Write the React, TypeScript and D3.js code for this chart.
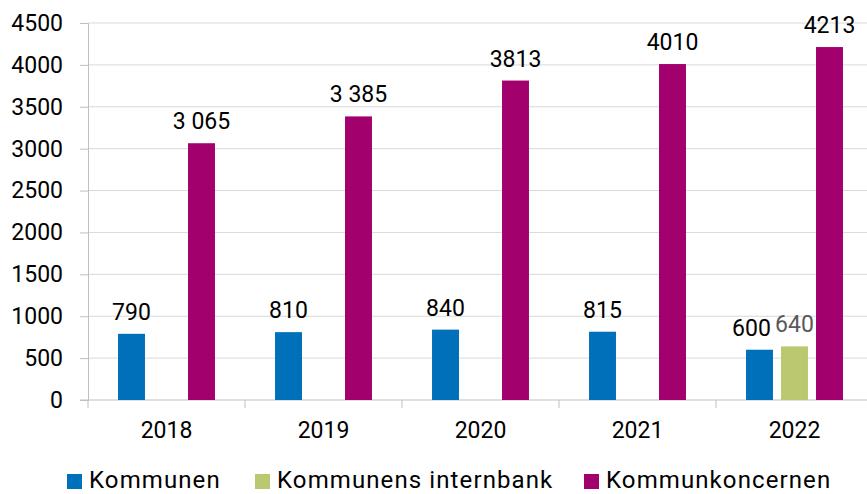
import React, { useEffect, useRef } from 'react';
import * as d3 from 'd3';

const years = ['2018', '2019', '2020', '2021', '2022'];
const seriesNames = ['Kommunen', 'Kommunens internbank', 'Kommunkoncernen'];
const seriesColors = ['#0070ba', '#bcc870', '#a1006d'];
const kommunen = [790, 810, 840, 815, 600];
const internbank = [null, null, null, null, 640];
const koncernen = [3065, 3385, 3813, 4010, 4213];
const kommunenLabels = ['790', '810', '840', '815', '600'];
const internbankLabels = ['', '', '', '', '640'];
const koncernenLabels = ['3 065', '3 385', '3813', '4010', '4213'];
const yTicks = [0, 500, 1000, 1500, 2000, 2500, 3000, 3500, 4000, 4500];

const App = () => {
  const chartRef = useRef<SVGSVGElement>(null);

  useEffect(() => {
    const svg = d3.select(chartRef.current);
    svg.selectAll('*').remove();

    const width = 867;
    const left = 88;
    const bottom = 400;

    const x = d3.scaleBand().domain(years).range([left, left + 157 * 5]);
    const xs = d3.scaleBand()
      .domain(seriesNames)
      .range([0, x.bandwidth()])
      .paddingInner(0.23)
      .paddingOuter(0.858);
    const y = d3.scaleLinear().domain([0, 4500]).range([bottom, 23]);

    const font = 'Roboto, sans-serif';

    // gridlines
    svg.append('g')
      .selectAll('line')
      .data(yTicks.slice(1))
      .enter()
      .append('line')
      .attr('x1', left)
      .attr('x2', width)
      .attr('y1', d => y(d))
      .attr('y2', d => y(d))
      .attr('stroke', '#d9d9d9')
      .attr('stroke-width', 1);

    // y axis
    const yAxis = svg.append('g')
      .attr('transform', `translate(${left},0)`)
      .call(d3.axisLeft(y).tickValues(yTicks).tickSize(8).tickPadding(17).tickFormat(d3.format('d')));
    yAxis.select('.domain').attr('stroke', '#bfbfbf');
    yAxis.selectAll('.tick line').attr('stroke', '#bfbfbf');
    yAxis.selectAll('text')
      .attr('font-family', font)
      .attr('font-size', 23)
      .attr('fill', '#000');

    // x axis
    svg.append('line')
      .attr('x1', left - 8)
      .attr('x2', width)
      .attr('y1', bottom)
      .attr('y2', bottom)
      .attr('stroke', '#bfbfbf');
    svg.append('g')
      .selectAll('line')
      .data(years)
      .enter()
      .append('line')
      .attr('x1', d => x(d)!)
      .attr('x2', d => x(d)!)
      .attr('y1', bottom)
      .attr('y2', bottom + 8)
      .attr('stroke', '#bfbfbf');
    svg.append('g')
      .selectAll('text')
      .data(years)
      .enter()
      .append('text')
      .attr('x', d => x(d)! + x.bandwidth() / 2)
      .attr('y', 438)
      .attr('text-anchor', 'middle')
      .attr('font-family', font)
      .attr('font-size', 23)
      .text(d => d);

    // bars
    const values = [kommunen, internbank, koncernen];
    const labels = [kommunenLabels, internbankLabels, koncernenLabels];
    const rows: { year: string; s: number; v: number; label: string }[] = [];
    years.forEach((yr, i) => {
      values.forEach((arr, s) => {
        const v = arr[i];
        if (v != null) rows.push({ year: yr, s, v, label: labels[s][i] });
      });
    });

    svg.append('g')
      .selectAll('rect')
      .data(rows)
      .enter()
      .append('rect')
      .attr('x', d => x(d.year)! + xs(seriesNames[d.s])!)
      .attr('width', xs.bandwidth())
      .attr('y', d => y(d.v))
      .attr('height', d => bottom - y(d.v))
      .attr('fill', d => seriesColors[d.s]);

    // value labels (nudge the 2022 Kommunen label left so it clears the internbank one)
    svg.append('g')
      .selectAll('text')
      .data(rows)
      .enter()
      .append('text')
      .attr('x', d => {
        const cx = x(d.year)! + xs(seriesNames[d.s])! + xs.bandwidth() / 2;
        return d.s === 0 && internbank[years.indexOf(d.year)] != null ? cx - 8 : cx;
      })
      .attr('y', d => y(d.v) - 14)
      .attr('text-anchor', 'middle')
      .attr('font-family', font)
      .attr('font-size', 23)
      .attr('fill', d => (d.s === 1 ? '#595959' : '#000'))
      .text(d => d.label);

    // legend
    const legendX = [67, 255, 584];
    const legend = svg.append('g')
      .selectAll('g')
      .data(seriesNames)
      .enter()
      .append('g')
      .attr('transform', (d, i) => `translate(${legendX[i]},0)`);
    legend.append('rect')
      .attr('x', 0)
      .attr('y', 474)
      .attr('width', 15)
      .attr('height', 15)
      .attr('fill', (d, i) => seriesColors[i]);
    legend.append('text')
      .attr('x', 22)
      .attr('y', 488)
      .attr('font-family', font)
      .attr('font-size', 24)
      .attr('letter-spacing', 1.1)
      .text(d => d);
  }, []);

  return (
    <svg
      ref={chartRef}
      width={867}
      height={494}
      style={{ position: 'absolute', left: 0, top: 0, background: '#fff' }}
    />
  );
};

export default App;
